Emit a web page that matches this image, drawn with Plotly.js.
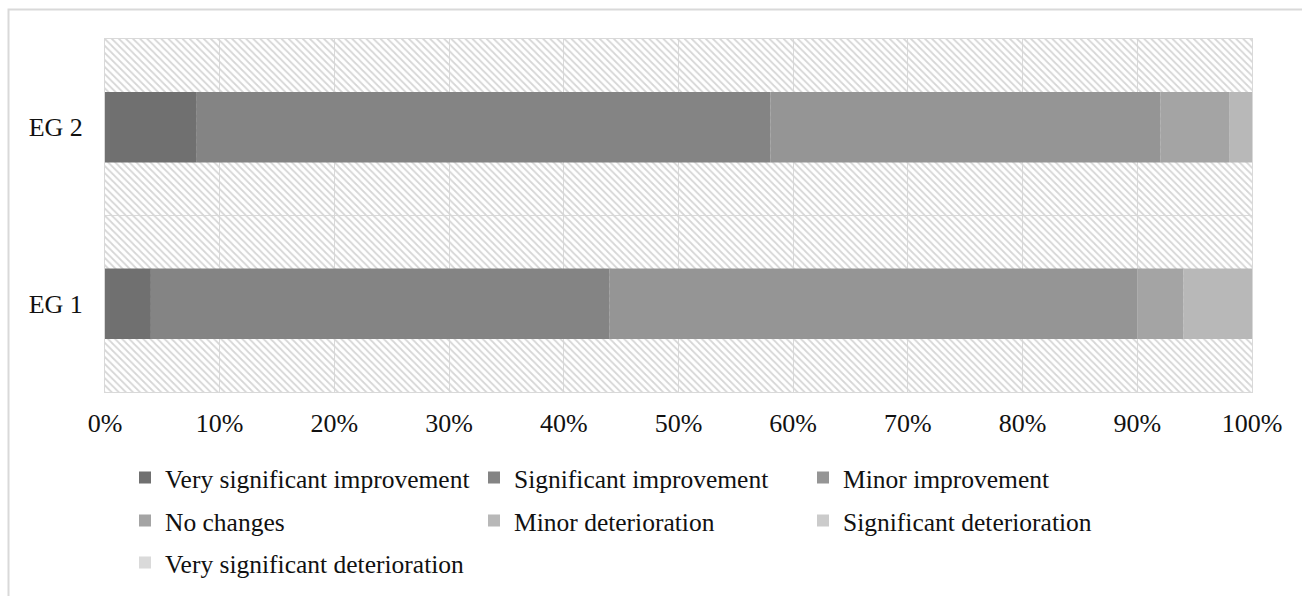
<!DOCTYPE html>
<html>
<head>
<meta charset="utf-8">
<script src="https://cdn.plot.ly/plotly-3.0.1.min.js"></script>
<style>
  html, body { margin: 0; padding: 0; background: #ffffff; overflow: hidden; }
  #chart { width: 1302px; height: 596px; }
</style>
</head>
<body>
<div id="chart"></div>
<script>
// ---- data (percent of group) ----
const categories = ['EG 1', 'EG 2'];
const seriesNames = [
  'Very significant improvement',
  'Significant improvement',
  'Minor improvement',
  'No changes',
  'Minor deterioration',
  'Significant deterioration',
  'Very significant deterioration'
];
const veryImprovement = [4, 8];
const sigImprovement = [40, 50];
const minorImprovement = [46, 34];
const noChanges = [4, 6];
const minorDeterioration = [6, 2];
const sigDeterioration = [0, 0];
const veryDeterioration = [0, 0];
const xTickValues = [0, 10, 20, 30, 40, 50, 60, 70, 80, 90, 100];
const total = 100;

// ---- styles ----
const colors = ['#707070', '#848484', '#959595', '#a4a4a4', '#b8b8b8', '#cbcbcb', '#dadada'];
const FONT = 'Liberation Serif, Times New Roman, serif';
const W = 1302, H = 596;
const M = { l: 105, r: 50, t: 39, b: 204 };
const pw = W - M.l - M.r, ph = H - M.t - M.b;
const px2x = px => (px - M.l) / pw;
const py2y = py => (H - M.b - py) / ph;

const seriesValues = [veryImprovement, sigImprovement, minorImprovement, noChanges,
                      minorDeterioration, sigDeterioration, veryDeterioration];

const traces = [];
// hatched plot-area background
traces.push({
  type: 'bar', orientation: 'h',
  y: categories, x: categories.map(() => total), base: categories.map(() => 0),
  width: 1,
  marker: { color: 'rgba(0,0,0,0)', line: { width: 0 },
            pattern: { shape: '\\', fgcolor: '#d6d6d6', bgcolor: 'rgba(0,0,0,0)', size: 5, solidity: 0.35 } },
  showlegend: false, hoverinfo: 'skip'
});

const running = categories.map(() => 0);
seriesValues.forEach((vals, i) => {
  const base = running.slice();
  vals.forEach((v, j) => { running[j] += v; });
  traces.push({
    type: 'bar', orientation: 'h',
    name: seriesNames[i],
    y: categories, x: vals, base: base,
    width: 0.4,
    marker: { color: colors[i], line: { width: 0 } },
    legend: i === 0 ? 'legend' : 'legend' + (i + 1)
  });
});

// legend placement (text start px, row centre px)
const legCols = [165, 514, 843];
const legRows = [478, 521, 563];
const legendFont = { family: FONT, size: 25.5, color: '#111111' };
const layout = {
  width: W, height: H,
  margin: { l: M.l, r: M.r, t: M.t, b: M.b, pad: 0, autoexpand: false },
  paper_bgcolor: '#ffffff', plot_bgcolor: '#ffffff',
  barmode: 'overlay',
  font: { family: FONT, size: 26, color: '#111111' },
  xaxis: {
    range: [0, total], tickvals: xTickValues, ticktext: xTickValues.map(v => v + '%'),
    showgrid: true, gridcolor: '#d9d9d9', gridwidth: 1,
    zeroline: false, showline: true, mirror: true, linecolor: '#d9d9d9', linewidth: 1,
    ticks: 'outside', ticklen: 8, tickcolor: 'rgba(0,0,0,0)',
    tickfont: { family: FONT, size: 26, color: '#111111' }, fixedrange: true
  },
  yaxis: {
    type: 'category', categoryorder: 'array', categoryarray: categories,
    range: [-0.5, 1.5], tickson: 'boundaries',
    showgrid: true, gridcolor: '#d9d9d9', gridwidth: 1,
    zeroline: false, showline: true, mirror: true, linecolor: '#d9d9d9', linewidth: 1,
    ticks: 'outside', ticklen: 20, tickcolor: 'rgba(0,0,0,0)', ticklabelstandoff: 16,
    tickfont: { family: FONT, size: 26, color: '#111111' }, fixedrange: true
  },
  shapes: [{
    type: 'rect', xref: 'paper', yref: 'paper',
    x0: px2x(8.5), x1: px2x(1320), y0: py2y(620), y1: py2y(9.5),
    line: { color: '#d9d9d9', width: 2 }, fillcolor: 'rgba(0,0,0,0)', layer: 'below'
  }],
  hovermode: false
};

seriesNames.forEach((n, i) => {
  const key = i === 0 ? 'legend' : 'legend' + (i + 1);
  const col = i % 3, row = Math.floor(i / 3);
  layout[key] = {
    x: px2x(legCols[col] - 40), y: py2y(legRows[row]),
    xanchor: 'left', yanchor: 'middle',
    bgcolor: 'rgba(0,0,0,0)', borderwidth: 0,
    font: legendFont, itemclick: false, itemdoubleclick: false
  };
});

Plotly.newPlot('chart', traces, layout, { displayModeBar: false, staticPlot: true });
</script>
</body>
</html>
